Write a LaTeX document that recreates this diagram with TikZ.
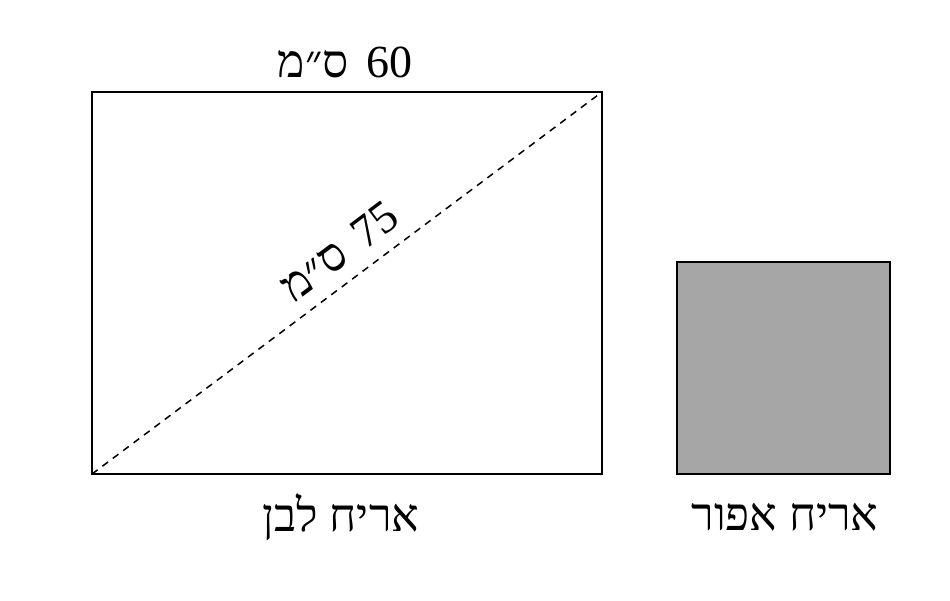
\documentclass[tikz,border=0pt]{standalone}
\usepackage{fontspec}
\setmainfont{Liberation Serif}
\newfontfamily\hebfont[Script=Hebrew]{Liberation Serif}
\TeXXeTstate=1
\begin{document}
\begin{tikzpicture}[x=1pt,y=-1pt,
  tile/.style={draw=black, line width=2pt, inner sep=0pt, outer sep=0pt},
  lbl/.style={font=\fontsize{46}{50}\selectfont\hebfont, inner sep=0pt}]
\useasboundingbox (0,0) rectangle (950,600);
\node[tile, minimum width=510pt, minimum height=382pt] (white) at (347,283) {};
\node[tile, fill={rgb,255:red,166;green,166;blue,166}, line width=2.4pt, minimum width=213pt, minimum height=212pt] (gray) at (783.5,368) {};
\draw[line width=1.5pt, dash pattern=on 7pt off 6pt] (white.south west) -- node[lbl, sloped, above=14pt, pos=0.52] (diag) {\beginR\beginL 75\endL{}\hspace{6pt} ס״מ\endR} (white.north east);
\node[lbl] (top) at (345,62) {\beginR\beginL 60\endL{}\hspace{6pt} ס״מ\endR};
\node[lbl] (wl) at (341,517) {\beginR אריח לבן\endR};
\node[lbl] (gl) at (785,517) {\beginR אריח אפור\endR};
\end{tikzpicture}
\end{document}
